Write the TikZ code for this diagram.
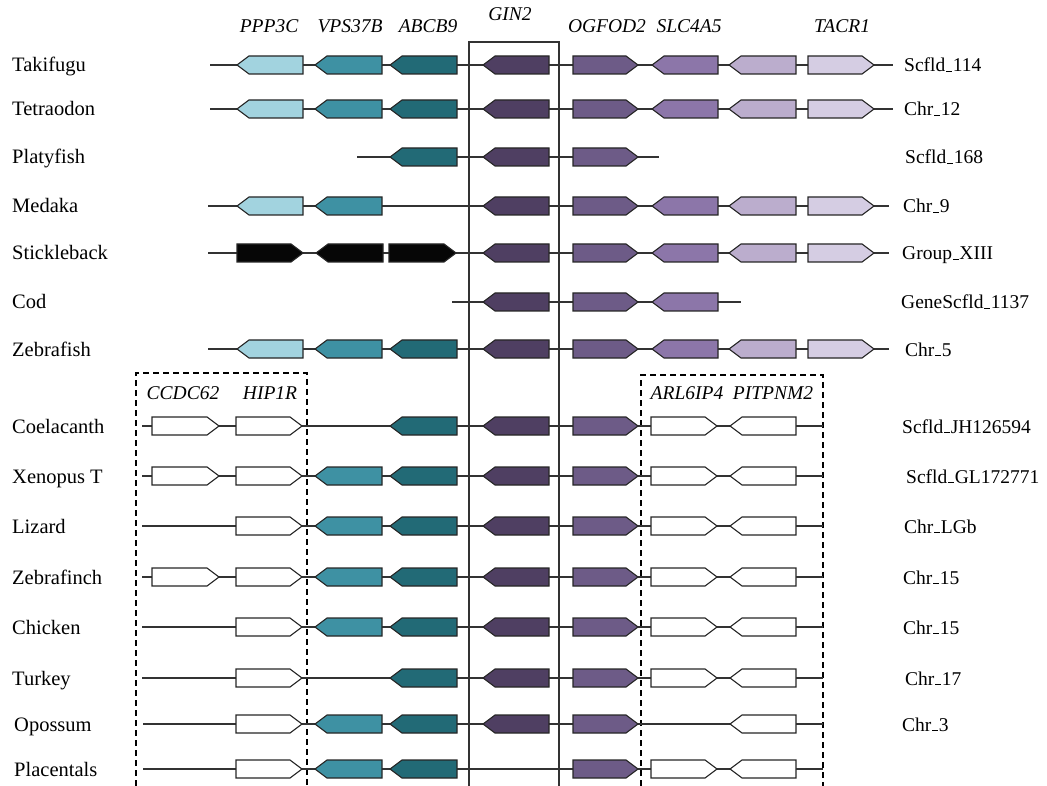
\documentclass[tikz,border=0pt]{standalone}
\usepackage{fontspec}
\setmainfont{Liberation Serif}
\definecolor{cPPP}{HTML}{A2D3DF}
\definecolor{cVPS}{HTML}{3E91A3}
\definecolor{cABC}{HTML}{226A76}
\definecolor{cGIN}{HTML}{4F3F62}
\definecolor{cOGF}{HTML}{6D5B87}
\definecolor{cSLC}{HTML}{8C76A9}
\definecolor{cSEV}{HTML}{BBADCD}
\definecolor{cTAC}{HTML}{D5CDE3}
\definecolor{cBLK}{HTML}{060606}
\definecolor{cLine}{HTML}{333333}
\newcommand\us{\kern0.04em\rule[-0.02em]{0.3em}{0.07em}\kern0.04em}
% right-pointing gene: left x, tip x, y, colour
\newcommand\gR[4]{\draw[genebox,fill=#4] (#1,#3-9) -- (#2-12,#3-9) -- (#2,#3) -- (#2-12,#3+9) -- (#1,#3+9) -- cycle;}
% left-pointing gene: tip x, right x, y, colour
\newcommand\gL[4]{\draw[genebox,fill=#4] (#2,#3-9) -- (#1+12,#3-9) -- (#1,#3) -- (#1+12,#3+9) -- (#2,#3+9) -- cycle;}
\newcommand\gPPP[1]{\gL{237}{303}{#1}{cPPP}}
\newcommand\gVPS[1]{\gL{315}{382}{#1}{cVPS}}
\newcommand\gABC[1]{\gL{390}{457}{#1}{cABC}}
\newcommand\gGIN[1]{\gL{483}{549}{#1}{cGIN}}
\newcommand\gOGF[1]{\gR{573}{638}{#1}{cOGF}}
\newcommand\gSLC[1]{\gL{652}{718}{#1}{cSLC}}
\newcommand\gSEV[1]{\gL{729}{796}{#1}{cSEV}}
\newcommand\gTAC[1]{\gR{808}{874}{#1}{cTAC}}
\newcommand\gCCD[1]{\gR{152}{219}{#1}{white}}
\newcommand\gHIP[1]{\gR{236}{302}{#1}{white}}
\newcommand\gARL[1]{\gR{651}{717}{#1}{white}}
\newcommand\gPIT[1]{\gL{730}{796}{#1}{white}}
\begin{document}
\begin{tikzpicture}[x=1pt,y=-1pt,
  genebox/.style={draw=black!85,line width=1.1pt,line join=miter},
  bb/.style={draw=cLine,line width=1.2pt},
  sp/.style={anchor=base west,font=\fontsize{20.5}{23}\selectfont,inner sep=0pt},
  chr/.style={anchor=base west,font=\fontsize{19.5}{22}\selectfont,inner sep=0pt},
  gname/.style={anchor=base,font=\fontsize{19.5}{22}\selectfont\itshape,inner sep=0pt},
  dbox/.style={draw=black,line width=1.1pt,dash pattern=on 6pt off 4pt}]
\useasboundingbox (0,0) rectangle (1047,786);
% frames
\draw[draw=cLine,line width=1.3pt] (469,786) -- (469,42) -- (559,42) -- (559,786);
\draw[dbox] (136,786) -- (136,373) -- (307,373) -- (307,786);
\draw[dbox] (641,786) -- (641,375) -- (823,375) -- (823,786);
% gene names
\node[gname] (nPPP) at (269,33) {PPP3C};
\node[gname] (nVPS) at (350,33) {VPS37B};
\node[gname] (nABC) at (428,33) {ABCB9};
\node[gname] (nGIN) at (510,21) {GIN2};
\node[gname] (nOGF) at (607,33) {OGFOD2};
\node[gname] (nSLC) at (689,33) {SLC4A5};
\node[gname] (nTAC) at (842,33) {TACR1};
\node[gname] (nCCD) at (183,399) {CCDC62};
\node[gname] (nHIP) at (270,399) {HIP1R};
\node[gname] (nARL) at (687,399) {ARL6IP4};
\node[gname] (nPIT) at (773,399) {PITPNM2};
% Takifugu
\node[sp] (s1) at (12,72) {Takifugu};
\draw[bb] (210,65) -- (893,65);
\gPPP{65}\gVPS{65}\gABC{65}\gGIN{65}\gOGF{65}\gSLC{65}\gSEV{65}\gTAC{65}
\node[chr] (c1) at (904,72) {Scfld\us114};
% Tetraodon
\node[sp] (s2) at (12,116) {Tetraodon};
\draw[bb] (210,109) -- (893,109);
\gPPP{109}\gVPS{109}\gABC{109}\gGIN{109}\gOGF{109}\gSLC{109}\gSEV{109}\gTAC{109}
\node[chr] (c2) at (904,116) {Chr\us12};
% Platyfish
\node[sp] (s3) at (12,164) {Platyfish};
\draw[bb] (357,157) -- (659,157);
\gABC{157}\gGIN{157}\gOGF{157}
\node[chr] (c3) at (905,164) {Scfld\us168};
% Medaka
\node[sp] (s4) at (12,213) {Medaka};
\draw[bb] (208,206) -- (889,206);
\gPPP{206}\gVPS{206}\gGIN{206}\gOGF{206}\gSLC{206}\gSEV{206}\gTAC{206}
\node[chr] (c4) at (903,213) {Chr\us9};
% Stickleback
\node[sp] (s5) at (12,260) {Stickleback};
\draw[bb] (208,253) -- (889,253);
\gR{237}{303}{253}{cBLK}\gL{316}{383}{253}{cBLK}\gR{389}{456}{253}{cBLK}
\gGIN{253}\gOGF{253}\gSLC{253}\gSEV{253}\gTAC{253}
\node[chr] (c5) at (902,260) {Group\us XIII};
% Cod
\node[sp] (s6) at (12,309) {Cod};
\draw[bb] (452,302) -- (741,302);
\gGIN{302}\gOGF{302}\gSLC{302}
\node[chr] (c6) at (901,309) {GeneScfld\us1137};
% Zebrafish
\node[sp] (s7) at (12,356) {Zebrafish};
\draw[bb] (208,349) -- (889,349);
\gPPP{349}\gVPS{349}\gABC{349}\gGIN{349}\gOGF{349}\gSLC{349}\gSEV{349}\gTAC{349}
\node[chr] (c7) at (905,356) {Chr\us5};
% Coelacanth
\node[sp] (s8) at (12,433) {Coelacanth};
\draw[bb] (142,426) -- (823,426);
\gCCD{426}\gHIP{426}\gABC{426}\gGIN{426}\gOGF{426}\gARL{426}\gPIT{426}
\node[chr] (c8) at (902,433) {Scfld\us JH126594};
% Xenopus T
\node[sp] (s9) at (12,483) {Xenopus T};
\draw[bb] (142,476) -- (823,476);
\gCCD{476}\gHIP{476}\gVPS{476}\gABC{476}\gGIN{476}\gOGF{476}\gARL{476}\gPIT{476}
\node[chr] (c9) at (906,483) {Scfld\us GL172771};
% Lizard
\node[sp] (s10) at (12,533) {Lizard};
\draw[bb] (142,526) -- (823,526);
\gHIP{526}\gVPS{526}\gABC{526}\gGIN{526}\gOGF{526}\gARL{526}\gPIT{526}
\node[chr] (c10) at (904,533) {Chr\us LGb};
% Zebrafinch
\node[sp] (s11) at (12,584) {Zebrafinch};
\draw[bb] (142,577) -- (823,577);
\gCCD{577}\gHIP{577}\gVPS{577}\gABC{577}\gGIN{577}\gOGF{577}\gARL{577}\gPIT{577}
\node[chr] (c11) at (903,584) {Chr\us15};
% Chicken
\node[sp] (s12) at (12,634) {Chicken};
\draw[bb] (142,627) -- (823,627);
\gHIP{627}\gVPS{627}\gABC{627}\gGIN{627}\gOGF{627}\gARL{627}\gPIT{627}
\node[chr] (c12) at (903,634) {Chr\us15};
% Turkey
\node[sp] (s13) at (12,685) {Turkey};
\draw[bb] (142,678) -- (823,678);
\gHIP{678}\gABC{678}\gGIN{678}\gOGF{678}\gARL{678}\gPIT{678}
\node[chr] (c13) at (905,685) {Chr\us17};
% Opossum
\node[sp] (s14) at (14,731) {Opossum};
\draw[bb] (143,724) -- (823,724);
\gHIP{724}\gVPS{724}\gABC{724}\gGIN{724}\gOGF{724}\gPIT{724}
\node[chr] (c14) at (902,731) {Chr\us3};
% Placentals
\node[sp] (s15) at (14,776) {Placentals};
\draw[bb] (143,769) -- (823,769);
\gHIP{769}\gVPS{769}\gABC{769}\gOGF{769}\gARL{769}\gPIT{769}
\end{tikzpicture}
\end{document}
